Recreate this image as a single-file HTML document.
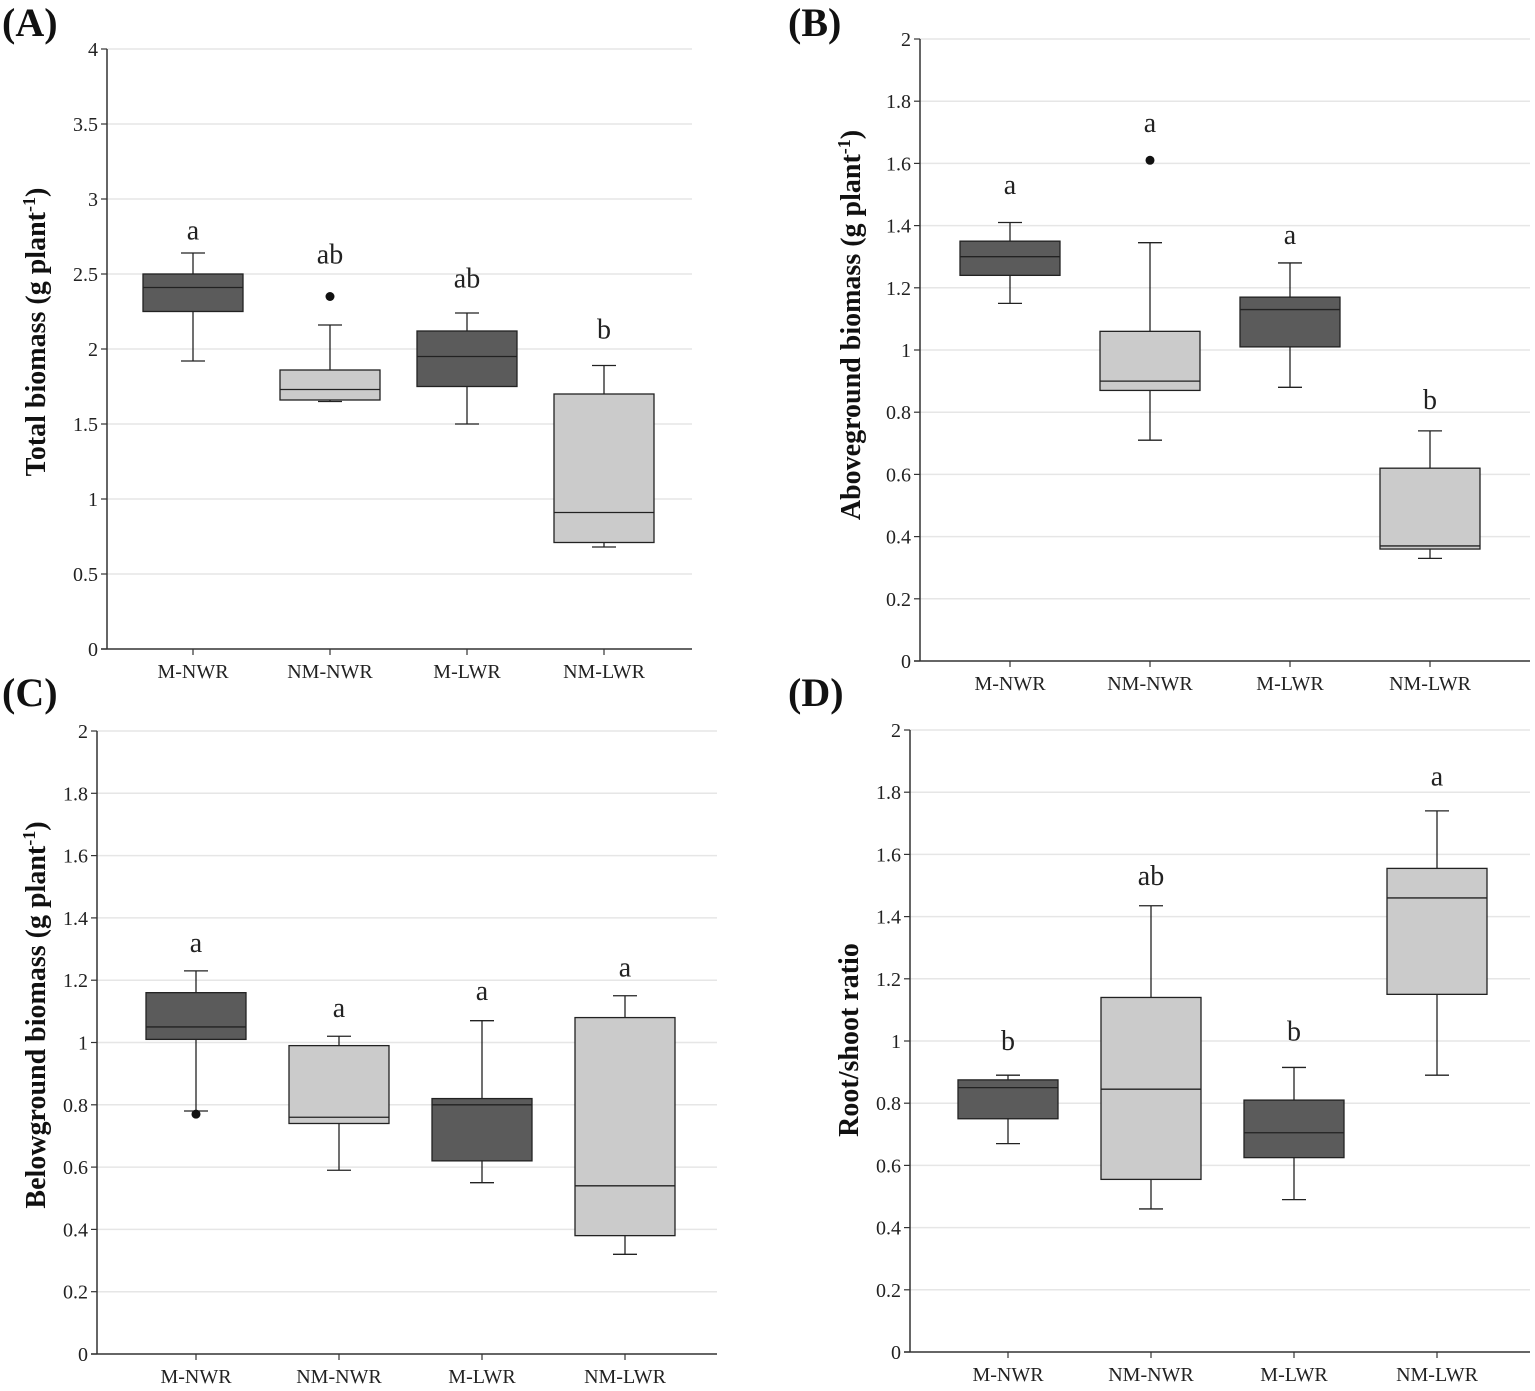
<!DOCTYPE html>
<html><head><meta charset="utf-8"><style>
html,body{margin:0;padding:0;background:#fff;}
svg{display:block;font-family:"Liberation Serif",serif;}
</style></head><body>
<svg id="chart" width="1535" height="1391" viewBox="0 0 1535 1391" xmlns="http://www.w3.org/2000/svg"></svg>
<script>
const categories = ["M-NWR","NM-NWR","M-LWR","NM-LWR"];
const fills = ["#5b5b5b","#cbcbcb","#5b5b5b","#cbcbcb"];
// panel A: total biomass [min,q1,median,q3,max]
const statsA = [[1.92,2.25,2.41,2.50,2.64],[1.65,1.66,1.73,1.86,2.16],[1.50,1.75,1.95,2.12,2.24],[0.68,0.71,0.91,1.70,1.89]];
const outliersA = [[],[2.35],[],[]];
const lettersA = ["a","ab","ab","b"];
const letterPosA = [2.79,2.63,2.47,2.13];
const ticksA = [0,0.5,1,1.5,2,2.5,3,3.5,4];
// panel B: aboveground
const statsB = [[1.15,1.24,1.30,1.35,1.41],[0.71,0.87,0.90,1.06,1.345],[0.88,1.01,1.13,1.17,1.28],[0.33,0.36,0.37,0.62,0.74]];
const outliersB = [[],[1.61],[],[]];
const lettersB = ["a","a","a","b"];
const letterPosB = [1.53,1.73,1.37,0.84];
const ticksB = [0,0.2,0.4,0.6,0.8,1,1.2,1.4,1.6,1.8,2];
// panel C: belowground
const statsC = [[0.78,1.01,1.05,1.16,1.23],[0.59,0.74,0.76,0.99,1.02],[0.55,0.62,0.80,0.82,1.07],[0.32,0.38,0.54,1.08,1.15]];
const outliersC = [[0.77],[],[],[]];
const lettersC = ["a","a","a","a"];
const letterPosC = [1.32,1.11,1.165,1.24];
const ticksC = [0,0.2,0.4,0.6,0.8,1,1.2,1.4,1.6,1.8,2];
// panel D: root/shoot
const statsD = [[0.67,0.75,0.85,0.875,0.89],[0.46,0.555,0.845,1.14,1.435],[0.49,0.625,0.705,0.81,0.915],[0.89,1.15,1.46,1.555,1.74]];
const outliersD = [[],[],[],[]];
const lettersD = ["b","ab","b","a"];
const letterPosD = [1.0,1.53,1.03,1.85];
const ticksD = [0,0.2,0.4,0.6,0.8,1,1.2,1.4,1.6,1.8,2];

const svg = document.getElementById('chart');
const NS = "http://www.w3.org/2000/svg";
function mk(tag, attrs, parent){
  const e = document.createElementNS(NS, tag);
  for (const k in attrs) e.setAttribute(k, attrs[k]);
  (parent||svg).appendChild(e);
  return e;
}
function panel(cfg){
  const g = mk('g',{});
  
  
  const yMax = cfg.ticks[cfg.ticks.length-1];
  const y = v => cfg.y0 - (cfg.y0 - cfg.yTop) * v / yMax;
  const x = i => cfg.first + cfg.step * i;
  cfg.ticks.forEach(t => {
    if (t > 0) {
      const gl = mk('line',{x1:cfg.x0,x2:cfg.right,y1:y(t),y2:y(t),stroke:'#e6e6e6','stroke-width':1.5},g);
      
      
    }
    mk('line',{x1:cfg.x0-6,x2:cfg.x0,y1:y(t),y2:y(t),stroke:'#333','stroke-width':1.2},g);
    const tl = mk('text',{x:cfg.x0-9,y:y(t)+7,'text-anchor':'end','font-size':20,fill:'#222'},g);
    tl.textContent = String(t);
    
    
  });
  const ya = mk('line',{x1:cfg.x0,x2:cfg.x0,y1:cfg.yTop,y2:cfg.y0,stroke:'#333','stroke-width':1.5},g);
  
  
  const xa = mk('line',{x1:cfg.x0-6,x2:cfg.right,y1:cfg.y0,y2:cfg.y0,stroke:'#333','stroke-width':1.5},g);
  
  
  const bw = 100, cw = 24;
  categories.forEach((c,i) => {
    const cx = x(i);
    mk('line',{x1:cx,x2:cx,y1:cfg.y0,y2:cfg.y0+6,stroke:'#333','stroke-width':1.2},g);
    const xl = mk('text',{x:cx,y:cfg.y0+29,'text-anchor':'middle','font-size':20,fill:'#222'},g);
    xl.textContent = c;
    
    
    const s = cfg.stats[i];
    const bg = mk('g',{},g);
    
    
    mk('line',{x1:cx,x2:cx,y1:y(s[0]),y2:y(s[1]),stroke:'#222','stroke-width':1.3},bg);
    mk('line',{x1:cx,x2:cx,y1:y(s[3]),y2:y(s[4]),stroke:'#222','stroke-width':1.3},bg);
    mk('line',{x1:cx-cw/2,x2:cx+cw/2,y1:y(s[0]),y2:y(s[0]),stroke:'#222','stroke-width':1.3},bg);
    mk('line',{x1:cx-cw/2,x2:cx+cw/2,y1:y(s[4]),y2:y(s[4]),stroke:'#222','stroke-width':1.3},bg);
    mk('rect',{x:cx-bw/2,y:y(s[3]),width:bw,height:y(s[1])-y(s[3]),fill:fills[i],stroke:'#222','stroke-width':1.3},bg);
    mk('line',{x1:cx-bw/2,x2:cx+bw/2,y1:y(s[2]),y2:y(s[2]),stroke:'#222','stroke-width':1.3},bg);
    cfg.outliers[i].forEach(o => {
      const p = mk('circle',{cx:cx,cy:y(o),r:4.5,fill:'#111'},bg);
      
      
    });
    const lt = mk('text',{x:cx,y:y(cfg.letterPos[i])+9,'text-anchor':'middle','font-size':28,fill:'#222'},g);
    lt.textContent = cfg.letters[i];
    
    
  });
  const yt = mk('text',{x:0,y:0,'text-anchor':'middle','font-size':28,'font-weight':'bold',fill:'#111',transform:`translate(${cfg.titleX},${cfg.titleY}) rotate(-90)`},g);
  yt.innerHTML = cfg.title;
  
  
  const pl = mk('text',{x:cfg.labX,y:cfg.labY,'font-size':40,'font-weight':'bold',fill:'#111'},g);
  pl.textContent = cfg.label;
  
  
}
const bioTitle = t => t + ' (g plant<tspan baseline-shift="super" font-size="18">-1</tspan>)';
panel({id:'a',x0:107,right:692,first:193,step:137,y0:649,yTop:49,ticks:ticksA,stats:statsA,outliers:outliersA,letters:lettersA,letterPos:letterPosA,title:bioTitle('Total biomass'),titleX:45,titleY:332,label:'(A)',labX:2,labY:36});
panel({id:'b',x0:920,right:1530,first:1010,step:140,y0:661,yTop:39,ticks:ticksB,stats:statsB,outliers:outliersB,letters:lettersB,letterPos:letterPosB,title:bioTitle('Aboveground biomass'),titleX:860,titleY:325,label:'(B)',labX:788,labY:36});
panel({id:'c',x0:97,right:717,first:196,step:143,y0:1354,yTop:731,ticks:ticksC,stats:statsC,outliers:outliersC,letters:lettersC,letterPos:letterPosC,title:bioTitle('Belowground biomass'),titleX:45,titleY:1015,label:'(C)',labX:2,labY:706});
panel({id:'d',x0:910,right:1530,first:1008,step:143,y0:1352,yTop:730,ticks:ticksD,stats:statsD,outliers:outliersD,letters:lettersD,letterPos:letterPosD,title:'Root/shoot ratio',titleX:858,titleY:1040,label:'(D)',labX:788,labY:706});
</script>
</body></html>
